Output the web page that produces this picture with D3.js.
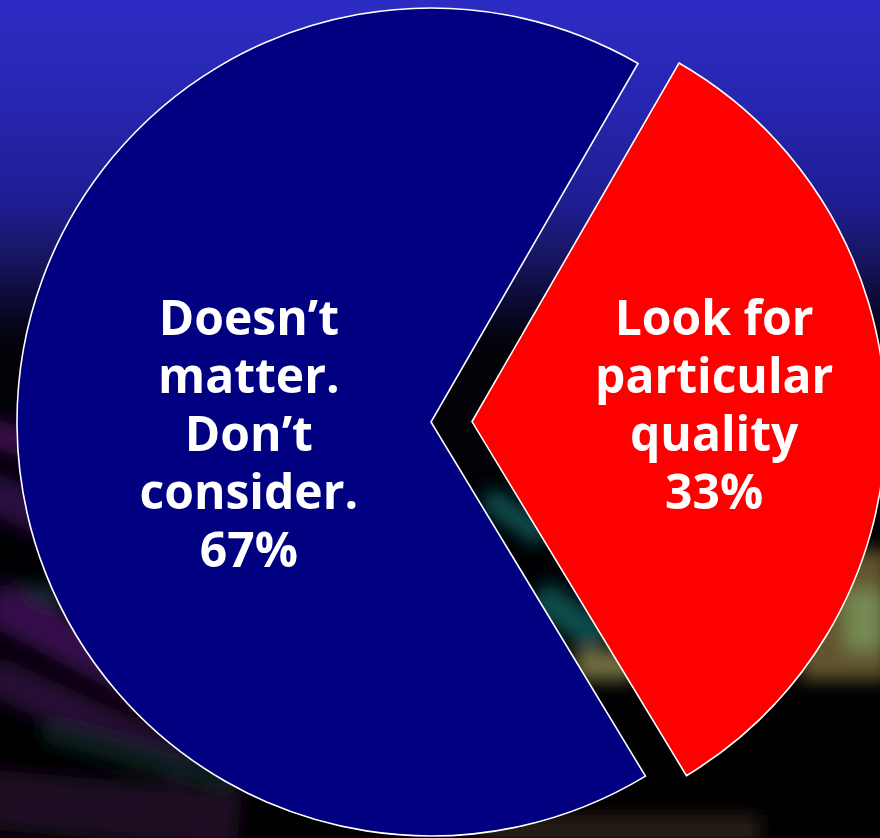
<!DOCTYPE html>
<html>
<head>
<meta charset="utf-8">
<script src="https://cdn.jsdelivr.net/npm/d3@7"></script>
<style>
	html, body { margin: 0; padding: 0; background: #000; }
	svg { display: block; }
</style>
</head>
<body>
<div id="chart-area"></div>
<script>

// Chart data
const categories = ["Look for particular quality", "Doesn\u2019t matter. Don\u2019t consider."];
const values = [33, 67];
const labelLines = [
	["Look for", "particular", "quality", "33%"],
	["Doesn\u2019t", "matter.", "Don\u2019t", "consider.", "67%"]
];
const colors = ["#ff0000", "#000080"];

// SVG Size
let width = 880,
	height = 838;
const cx = 431, cy = 422;
const radius = 414;
const explode = 41;            // red slice pulled out
const labelRadius = [0.585, 0.44];
const lineHeight = 58;

let svg = d3.select("#chart-area")
	.append("svg")
	.attr("width", width)
	.attr("height", height);

let defs = svg.append("defs");

// background gradient, blue at top fading to black
let grad = defs.append("linearGradient")
	.attr("id", "bg")
	.attr("x1", 0).attr("y1", 0).attr("x2", 0).attr("y2", 1);
[[0, "#2c2cc4"], [0.12, "#2726b0"], [0.24, "#1f1d92"], [0.31, "#17155f"], [0.36, "#0b0a33"], [0.41, "#020208"], [1, "#000"]]
	.forEach(s => grad.append("stop").attr("offset", s[0]).attr("stop-color", s[1]));

defs.append("filter")
	.attr("id", "blur")
	.attr("x", "-50%").attr("y", "-50%").attr("width", "200%").attr("height", "200%")
	.append("feGaussianBlur")
	.attr("stdDeviation", 9);

svg.append("rect")
	.attr("width", width)
	.attr("height", height)
	.attr("fill", "url(#bg)");

// blurry photo behind the pie
const backdrop = [
	{x: -20, y: 430, w: 90, h: 28, a: 20, c: "#3a0c4c"},
	{x: -20, y: 490, w: 100, h: 40, a: 25, c: "#2c0a42"},
	{x: 20, y: 585, w: 40, h: 30, a: 0, c: "#0a2c2e"},
	{x: -20, y: 625, w: 200, h: 45, a: 28, c: "#34104c"},
	{x: -20, y: 700, w: 220, h: 40, a: 25, c: "#260b36"},
	{x: 40, y: 745, w: 200, h: 22, a: 15, c: "#0a2222"},
	{x: -20, y: 780, w: 260, h: 60, a: 5, c: "#1a0a22"},
	{x: 480, y: 505, w: 70, h: 24, a: 35, c: "#0a5050"},
	{x: 530, y: 600, w: 80, h: 34, a: 35, c: "#0a4e4e"},
	{x: 575, y: 650, w: 60, h: 30, a: 0, c: "#727040"},
	{x: 800, y: 550, w: 90, h: 130, a: 0, c: "#62542e"},
	{x: 845, y: 590, w: 40, h: 60, a: 0, c: "#768a52"},
	{x: 480, y: 815, w: 280, h: 30, a: 0, c: "#261f12"}
];

svg.append("g")
	.attr("filter", "url(#blur)")
	.selectAll("rect")
	.data(backdrop)
	.enter()
	.append("rect")
	.attr("x", d => d.x)
	.attr("y", d => d.y)
	.attr("width", d => d.w)
	.attr("height", d => d.h)
	.attr("transform", d => "rotate(" + d.a + "," + (d.x + d.w / 2) + "," + (d.y + d.h / 2) + ")")
	.attr("fill", d => d.c);

// Pie layout, red slice starts at 30 degrees from the top
const pie = d3.pie()
	.sort(null)
	.startAngle(Math.PI / 6)
	.endAngle(Math.PI / 6 + 2 * Math.PI);

const arc = d3.arc()
	.innerRadius(0)
	.outerRadius(radius);

const arcs = pie(values);

function offset(d, i) {
	if (i !== 0) return [0, 0];
	const mid = (d.startAngle + d.endAngle) / 2;
	return [explode * Math.sin(mid), -explode * Math.cos(mid)];
}

let slices = svg.selectAll("g.slice")
	.data(arcs)
	.enter()
	.append("g")
	.attr("class", "slice")
	.attr("transform", (d, i) => {
		const o = offset(d, i);
		return "translate(" + (cx + o[0]) + "," + (cy + o[1]) + ")";
	});

slices.append("path")
	.attr("d", arc)
	.style("fill", (d, i) => colors[i])
	.style("stroke", "#fff")
	.style("stroke-width", 1.6)
	.style("stroke-linejoin", "miter");

// Labels
slices.append("text")
	.attr("text-anchor", "middle")
	.attr("fill", "#fff")
	.style("font-family", "'Open Sans', sans-serif")
	.style("font-weight", 700)
	.style("font-size", "48px")
	.each(function (d, i) {
		const c = d3.arc().innerRadius(0).outerRadius(2 * radius * labelRadius[i]).centroid(d);
		const t = d3.select(this);
		labelLines[i].forEach((line, k) => {
			t.append("tspan")
				.attr("x", c[0])
				.attr("y", -87 + k * lineHeight)
				.text(line);
		});
	});

</script>
</body>
</html>
